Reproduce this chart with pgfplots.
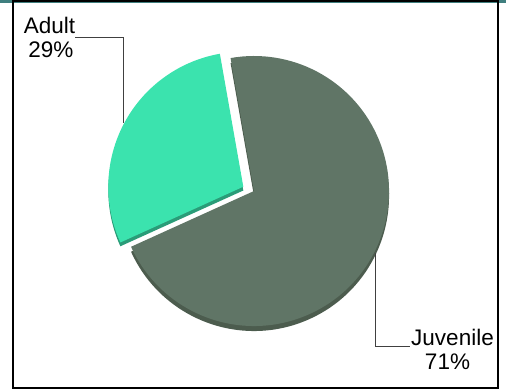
\documentclass[border=0pt]{standalone}
\usepackage{pgfplots}
\usepackage{pgfplotstable}
\pgfplotsset{compat=1.18}
\usepackage{fontspec}
\setmainfont{Liberation Sans}
\definecolor{adultc}{HTML}{3BE3AE}
\definecolor{adultd}{HTML}{2A9C78}
\definecolor{juvc}{HTML}{607566}
\definecolor{juvd}{HTML}{4C5C4E}
\definecolor{topbar}{HTML}{3F7F7F}
\definecolor{leader}{HTML}{404040}

\pgfplotstableread{
label value
Adult 29
Juvenile 71
}\piedata
\pgfplotstablegetelem{0}{value}\of\piedata
\let\vAdult\pgfplotsretval
\pgfplotstablegetelem{1}{value}\of\piedata
\let\vJuv\pgfplotsretval
\pgfmathsetmacro\aStart{100}
\pgfmathsetmacro\aMid{\aStart+3.6*\vAdult}
\pgfmathsetmacro\aEnd{\aMid+3.6*\vJuv}

\begin{document}
\begin{tikzpicture}
\begin{axis}[
  at={(0,0)}, anchor=south west,
  scale only axis, x=1bp, y=1bp,
  xmin=0, xmax=506, ymin=0, ymax=391,
  hide axis,
]
\addplot[draw=none] coordinates {(0,0) (506,391)};
% top bar
\fill[topbar] (axis cs:0,388.3) rectangle (axis cs:506,391);
% juvenile slice (with depth)
\fill[juvd] (axis cs:254,195) -- ++(\aMid:135bp) arc[start angle=\aMid, end angle=\aEnd, radius=135bp] -- cycle;
\fill[juvc] (axis cs:254,200) -- ++(\aMid:135bp) arc[start angle=\aMid, end angle=\aEnd, radius=135bp] -- cycle;
% adult slice (exploded, with depth)
\fill[adultd] (axis cs:243.3,200.5) -- ++(\aStart:135bp) arc[start angle=\aStart, end angle=\aMid, radius=135bp] -- cycle;
\fill[adultc] (axis cs:243.3,204.3) -- ++(\aStart:135bp) arc[start angle=\aStart, end angle=\aMid, radius=135bp] -- cycle;
% leader lines
\draw[leader, line width=1bp] (axis cs:75,353.3) -- (axis cs:123.5,353.3) -- (axis cs:123.5,268.5);
\draw[leader, line width=1bp] (axis cs:375,138) -- (axis cs:375,45) -- (axis cs:410,45);
% labels
\node[anchor=base, inner sep=0pt, font=\fontsize{22.5bp}{24bp}\selectfont] at (axis cs:49.5,357.7) {Adult};
\node[anchor=base, inner sep=0pt, font=\fontsize{22.5bp}{24bp}\selectfont] at (axis cs:50.8,333.7) {\vAdult\%};
\node[anchor=base, inner sep=0pt, font=\fontsize{22.5bp}{24bp}\selectfont] at (axis cs:452.5,45.5) {Juvenile};
\node[anchor=base, inner sep=0pt, font=\fontsize{22.5bp}{24bp}\selectfont] at (axis cs:447.5,21.5) {\vJuv\%};
% frame
\draw[black, line width=2bp] (axis cs:13,2.7) rectangle (axis cs:498.3,389.5);
\end{axis}
\end{tikzpicture}
\end{document}
